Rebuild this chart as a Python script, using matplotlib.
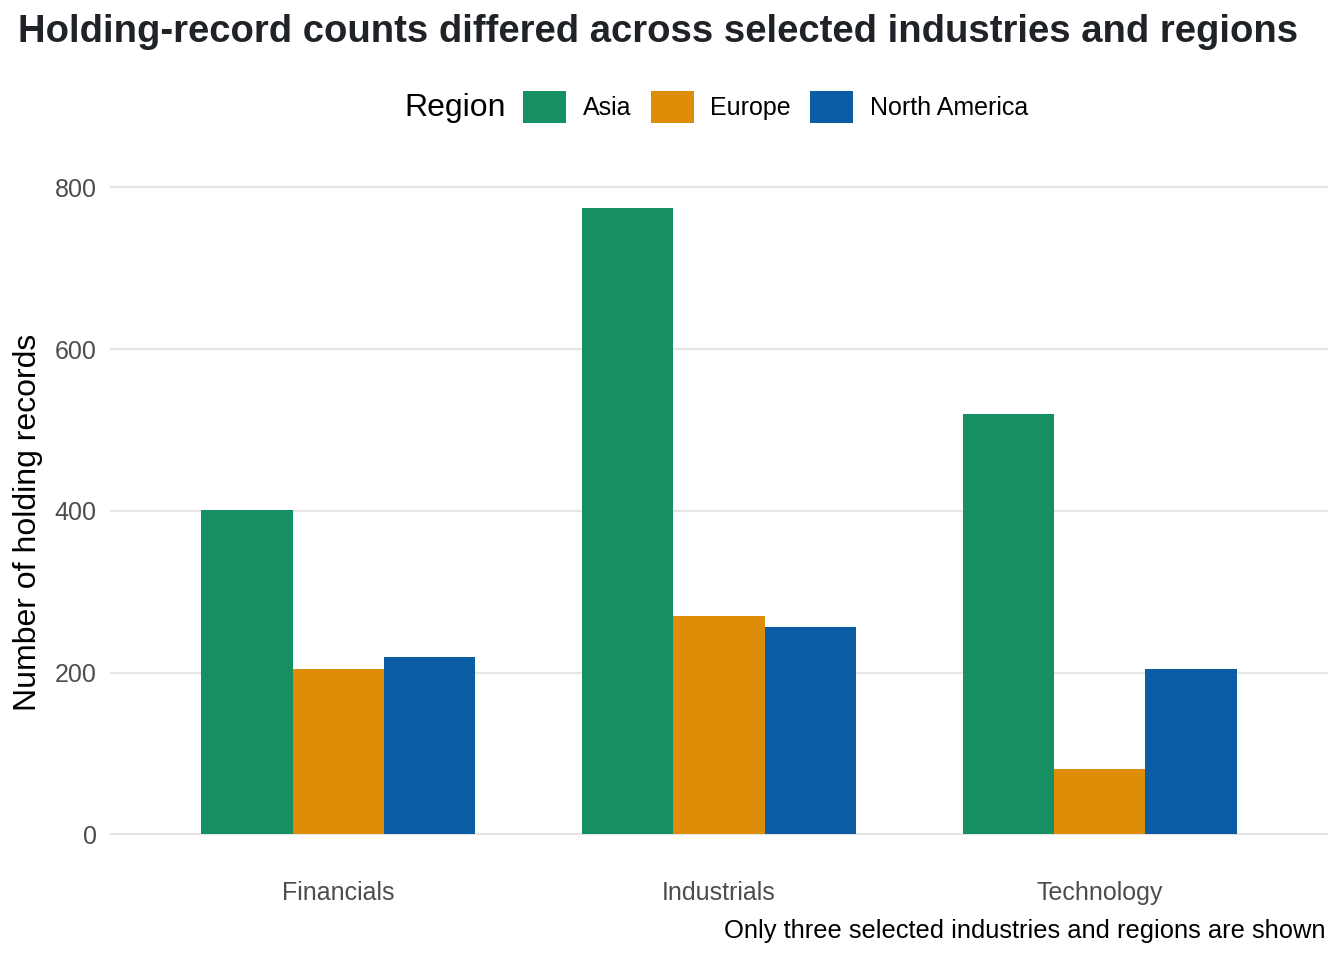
import matplotlib
matplotlib.use("Agg")
import matplotlib.pyplot as plt
import numpy as np
from matplotlib.patches import Patch

plt.rcParams['font.family'] = ['Liberation Sans', 'DejaVu Sans']

industries = ["Financials", "Industrials", "Technology"]
regions = ["Asia", "Europe", "North America"]
asia = [401, 774, 520]
europe = [204, 270, 81]
north_america = [219, 256, 205]
colors = ["#168F62", "#DE8D08", "#0B5EA3"]

fig = plt.figure(figsize=(13.44, 9.6), dpi=100)
ax = fig.add_axes([110 / 1344, 1 - 865.6 / 960, 1218 / 1344, (865.6 - 177.2) / 960])

x = np.arange(len(industries))
w = 0.24
for i, (vals, col) in enumerate(zip([asia, europe, north_america], colors)):
    ax.bar(x + (i - 1) * w, vals, width=w, color=col, zorder=2)

ymax = max(asia + europe + north_america)
ax.set_xlim(-0.6, 2.6)
ax.set_ylim(-0.05 * ymax, 1.05 * ymax)
ax.set_yticks([0, 200, 400, 600, 800])
ax.set_xticks(x)
ax.set_xticklabels(industries)
ax.grid(axis='y', color='#e5e5e5', linewidth=1.5, zorder=0)
ax.grid(axis='x', visible=False)
for s in ax.spines.values():
    s.set_visible(False)
ax.tick_params(axis='both', length=0, labelsize=18, labelcolor='#4d4d4d')
ax.tick_params(axis='y', pad=9.5)
ax.tick_params(axis='x', pad=11)

fig.text(28 / 1344, 1 - 522 / 960, "Number of holding records", fontsize=23,
         rotation=90, ha='center', va='center')

fig.text(18 / 1344, 1 - 32 / 960, "Holding-record counts differed across selected industries and regions",
         fontsize=27.5, fontweight='bold', color='#1f2328', ha='left', va='center')

fig.text(404 / 1344, 1 - 108 / 960, "Region", fontsize=23, ha='left', va='center')
handles = [Patch(facecolor=c, edgecolor='none', label=r) for c, r in zip(colors, regions)]
fig.legend(handles=handles, loc='center left', bbox_to_anchor=(523 / 1344, 1 - 107 / 960),
           ncol=3, frameon=False, fontsize=18, handlelength=1.72, handleheight=1.6,
           handletextpad=0.68, columnspacing=0.76, borderpad=0, borderaxespad=0)

fig.text(1326 / 1344, 1 - 931 / 960, "Only three selected industries and regions are shown",
         fontsize=18.4, ha='right', va='center')

fig.savefig("out.png", dpi=100)
